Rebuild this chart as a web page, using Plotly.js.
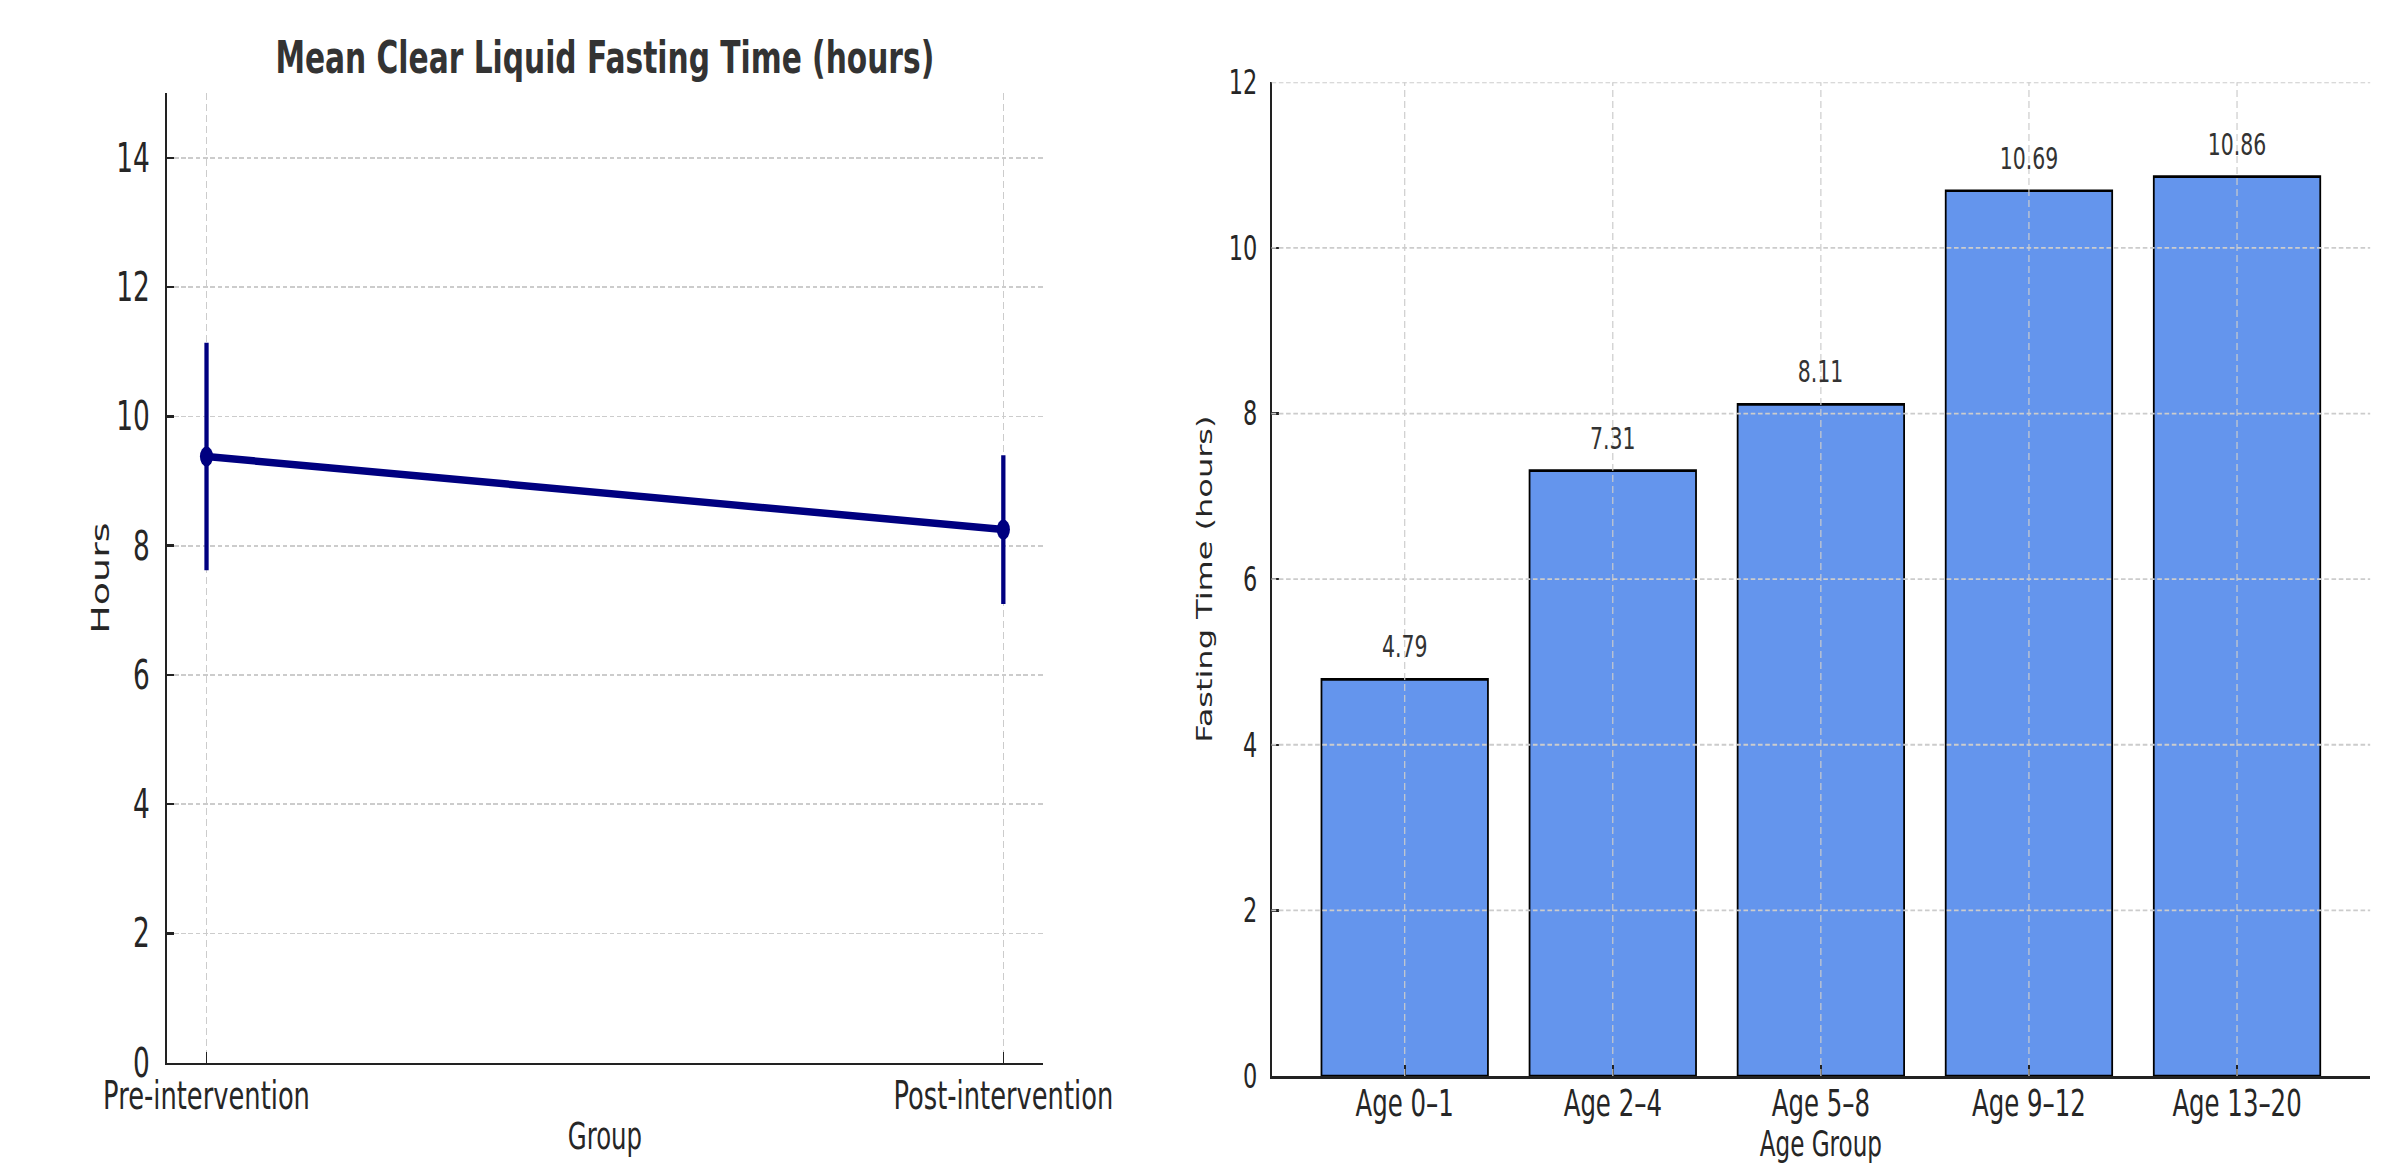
<!DOCTYPE html>
<html>
<head>
<meta charset="utf-8">
<script src="https://cdn.plot.ly/plotly-3.0.1.min.js"></script>
<style>
html, body { margin: 0; padding: 0; overflow: hidden; background: #ffffff; width: 2408px; height: 1164px; }
#plot { width: 3648px; height: 1164px; transform: scaleX(0.66); transform-origin: 0 0; }
</style>
</head>
<body>
<div id="plot"></div>
<script>
// ---- data ----
const groups = ['Pre-intervention', 'Post-intervention'];
const meanHours = [9.38, 8.25];
const sdHours = [1.76, 1.15];

const ageGroups = ['Age 0–1', 'Age 2–4', 'Age 5–8', 'Age 9–12', 'Age 13–20'];
const ageFasting = [4.79, 7.31, 8.11, 10.69, 10.86];

const leftYTicks = [0, 2, 4, 6, 8, 10, 12, 14];
const rightYTicks = [0, 2, 4, 6, 8, 10, 12];

// ---- style ----
const FONT = 'DejaVu Sans, sans-serif';
const TXT = '#262626';
const GRID = '#cccccc';
const DASH = '7px,4px';
const AX = '#222222';

const traces = [
  {
    type: 'scatter', mode: 'lines+markers',
    x: groups, y: meanHours,
    xaxis: 'x', yaxis: 'y',
    line: { color: '#000080', width: 7.5 },
    marker: { color: '#000080', size: 20 },
    error_y: { type: 'data', array: sdHours, visible: true, color: '#000080', thickness: 6.5, width: 0 },
    showlegend: false, hoverinfo: 'skip'
  },
  {
    type: 'bar',
    x: ageGroups, y: ageFasting,
    xaxis: 'x2', yaxis: 'y2',
    marker: { color: '#6495ED', line: { color: '#000000', width: 2.7 } },
    showlegend: false, hoverinfo: 'skip'
  }
];

// grid lines drawn over the bars (as in the reference)
const shapes = [];
ageGroups.forEach(c => shapes.push({
  type: 'line', layer: 'above', xref: 'x2', yref: 'y2 domain',
  x0: c, x1: c, y0: 0, y1: 1,
  line: { color: GRID, width: 1.8, dash: DASH }
}));
rightYTicks.filter(v => v > 0).forEach(v => shapes.push({
  type: 'line', layer: 'above', xref: 'x2 domain', yref: 'y2',
  x0: 0, x1: 1, y0: v, y1: v,
  line: { color: GRID, width: 1.8, dash: DASH }
}));

const annotations = ageGroups.map((c, i) => ({
  xref: 'x2', yref: 'y2', x: c, y: ageFasting[i],
  text: ageFasting[i].toFixed(2), showarrow: false,
  xanchor: 'center', yanchor: 'bottom', yshift: 13,
  font: { family: FONT, size: 31, color: '#333333' }
}));

const layout = {
  width: 3648, height: 1164,
  margin: { l: 0, r: 0, t: 0, b: 0, pad: 0 },
  paper_bgcolor: '#ffffff', plot_bgcolor: '#ffffff',
  font: { family: FONT, color: TXT },
  title: {
    text: 'Mean Clear Liquid Fasting Time (hours)',
    font: { family: FONT, size: 45, weight: 'bold', color: '#333333' },
    xref: 'paper', x: 0.2512, xanchor: 'center',
    yref: 'container', y: 0.951, yanchor: 'middle'
  },
  xaxis: {
    domain: [0.06923, 0.43327], type: 'category', range: [-0.05, 1.05],
    showline: true, linecolor: AX, linewidth: 2.7,
    ticks: 'inside', ticklen: 11, tickwidth: 2.5, tickcolor: AX,
    tickfont: { family: FONT, size: 39, color: TXT }, ticklabelstandoff: -3,
    showgrid: true, gridcolor: GRID, gridwidth: 1.8, griddash: DASH,
    zeroline: false, automargin: false,
    title: { text: 'Group', font: { family: FONT, size: 37, color: TXT }, standoff: 6 }
  },
  yaxis: {
    domain: [0.0870, 0.9198], range: [0, 15], tickvals: leftYTicks,
    showline: true, linecolor: AX, linewidth: 2.7,
    ticks: 'inside', ticklen: 11, tickwidth: 2.5, tickcolor: AX,
    tickfont: { family: FONT, size: 40, color: TXT }, ticklabelstandoff: 15,
    showgrid: true, gridcolor: GRID, gridwidth: 1.8, griddash: DASH,
    zeroline: false, automargin: false,
    title: { text: 'Hours', font: { family: FONT, size: 38, color: TXT }, standoff: -5 }
  },
  xaxis2: {
    anchor: 'y2', domain: [0.52812, 0.98443], type: 'category', range: [-0.64, 4.64],
    showline: true, linecolor: AX, linewidth: 2.7,
    ticks: 'inside', ticklen: 11, tickwidth: 2.5, tickcolor: AX,
    tickfont: { family: FONT, size: 37, color: TXT }, ticklabelstandoff: -7,
    showgrid: false, zeroline: false, automargin: false,
    title: { text: 'Age Group', font: { family: FONT, size: 35, color: TXT }, standoff: 2 }
  },
  yaxis2: {
    anchor: 'x2', domain: [0.0756, 0.9293], range: [0, 12], tickvals: rightYTicks,
    showline: true, linecolor: AX, linewidth: 2.7,
    ticks: 'inside', ticklen: 11, tickwidth: 2.5, tickcolor: AX,
    tickfont: { family: FONT, size: 34, color: TXT }, ticklabelstandoff: 12,
    showgrid: false, zeroline: false, automargin: false,
    title: { text: 'Fasting Time (hours)', font: { family: FONT, size: 32, color: TXT }, standoff: 16 }
  },
  bargap: 0.2,
  shapes: shapes,
  annotations: annotations
};

Plotly.newPlot('plot', traces, layout, { displayModeBar: false, staticPlot: true });
</script>
</body>
</html>
